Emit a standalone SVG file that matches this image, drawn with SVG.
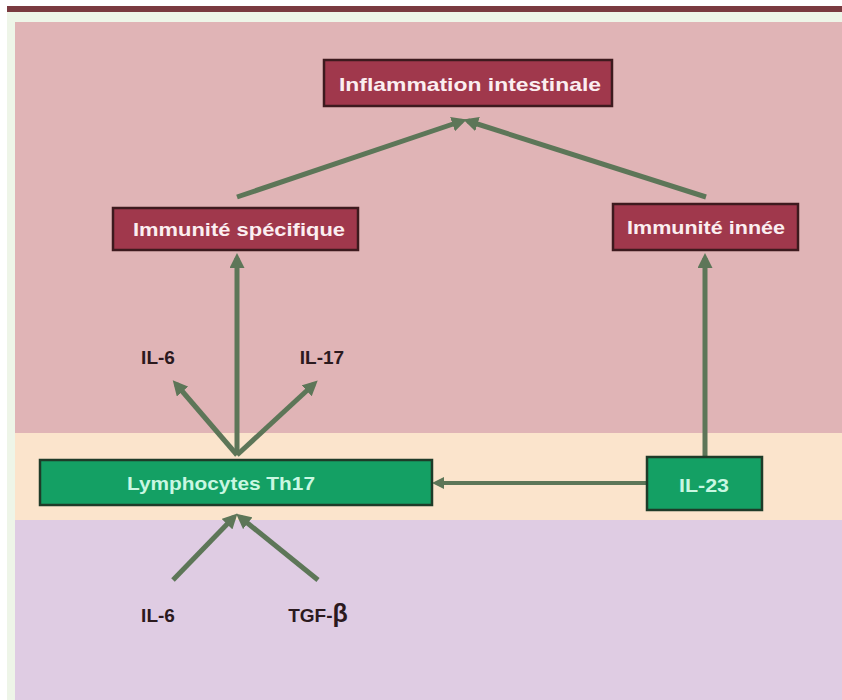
<svg xmlns="http://www.w3.org/2000/svg" width="842" height="700" viewBox="0 0 842 700">
<defs>
<style>
.red rect{fill:#a0384c;stroke:#3d1a1e;stroke-width:2.5}
.red text{fill:#fbeef0;font-family:"Liberation Sans",Arial,sans-serif;font-weight:bold;font-size:19px;text-anchor:middle}
.grn rect{fill:#14a064;stroke:#1e3b28;stroke-width:2.5}
.grn text{fill:#c9f7e2;font-family:"Liberation Sans",Arial,sans-serif;font-weight:bold;font-size:19px;text-anchor:middle}
.lbl{fill:#2b1a1e;font-family:"Liberation Sans",Arial,sans-serif;font-weight:bold;font-size:19px;text-anchor:middle}
#connectors line{stroke:#5d7658;stroke-width:5;fill:none;marker-end:url(#ah)}
</style>
<marker id="ah" markerWidth="3" markerHeight="3" refX="2" refY="1.5" orient="auto" markerUnits="strokeWidth">
<path d="M0,0 L3,1.5 L0,3 Z" fill="#5d7658"/>
</marker>
</defs>
<rect x="0" y="0" width="842" height="700" fill="#ffffff"/>
<rect x="7" y="12" width="835" height="688" fill="#eef5e8"/>
<rect x="7" y="6" width="835" height="6" fill="#7a3a40"/>
<rect x="15" y="22" width="827" height="411" fill="#e0b4b6"/>
<rect x="15" y="433" width="827" height="87" fill="#fbe4cc"/>
<rect x="15" y="520" width="827" height="180" fill="#dfcce3"/>

<g id="connectors">
<line x1="237" y1="197" x2="462" y2="121"/>
<line x1="706" y1="197" x2="468" y2="121"/>
<line x1="237" y1="455" x2="237" y2="258"/>
<line x1="237" y1="455" x2="176" y2="384"/>
<line x1="237" y1="455" x2="314" y2="384"/>
<line x1="705" y1="457" x2="705" y2="258"/>
<line x1="647" y1="483" x2="436" y2="483" style="stroke-width:4"/>
<line x1="173" y1="580" x2="234" y2="517"/>
<line x1="318" y1="580" x2="240" y2="517"/>
</g>

<g id="inflammation" class="red">
<rect x="324" y="60" width="288" height="46"/>
<text x="470" y="91" textLength="262" lengthAdjust="spacingAndGlyphs">Inflammation intestinale</text>
</g>
<g id="immunite-specifique" class="red">
<rect x="113" y="208" width="245" height="42"/>
<text x="239" y="236" textLength="212" lengthAdjust="spacingAndGlyphs">Immunité spécifique</text>
</g>
<g id="immunite-innee" class="red">
<rect x="613" y="204" width="185" height="46"/>
<text x="706" y="234" textLength="158" lengthAdjust="spacingAndGlyphs">Immunité innée</text>
</g>
<g id="th17" class="grn">
<rect x="40" y="460" width="392" height="45"/>
<text x="221" y="490" textLength="188" lengthAdjust="spacingAndGlyphs">Lymphocytes Th17</text>
</g>
<g id="il23" class="grn">
<rect x="647" y="457" width="115" height="53"/>
<text x="704" y="492" textLength="50" lengthAdjust="spacingAndGlyphs">IL-23</text>
</g>
<g id="il6-top"><text class="lbl" x="158" y="364">IL-6</text></g>
<g id="il17"><text class="lbl" x="322" y="364">IL-17</text></g>
<g id="il6-bottom"><text class="lbl" x="158" y="622">IL-6</text></g>
<g id="tgfb"><text class="lbl" x="318" y="622">TGF-<tspan font-size="25">β</tspan></text></g>
</svg>
